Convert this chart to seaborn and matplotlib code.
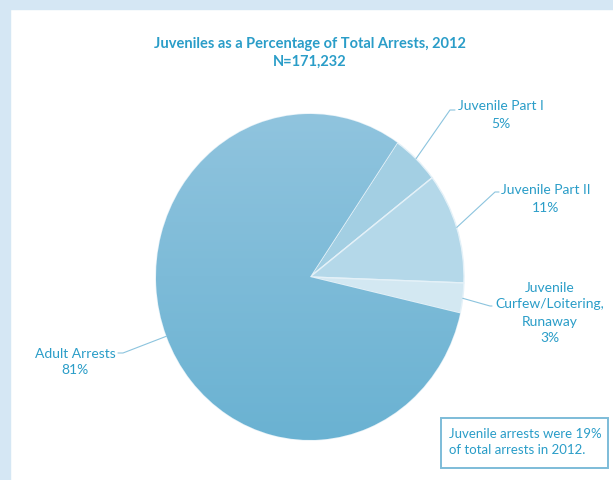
import numpy as np
import matplotlib
matplotlib.use("Agg")
import matplotlib.pyplot as plt
import seaborn as sns
from matplotlib.patches import Rectangle
from matplotlib.colors import LinearSegmentedColormap

sns.set_theme(style="white")
plt.rcParams['font.family'] = ['Lato', 'DejaVu Sans']

# data
categories = ['Juvenile Part I', 'Juvenile Part II',
              'Juvenile\nCurfew/Loitering,\nRunaway', 'Adult Arrests']
shares = [5, 11, 3, 81]
share_labels = ['5%', '11%', '3%', '81%']
title = 'Juveniles as a Percentage of Total Arrests, 2012\nN=171,232'
note = 'Juvenile arrests were 19%\nof total arrests in 2012.'

txt_col = '#2A9DC8'
slice_cols = ['#A3CFE3', '#B4D8E9', '#D3E8F2', '#7FBCD9']

W, H = 613, 480
fig = plt.figure(figsize=(W / 100, H / 100), dpi=100)
fig.patch.set_facecolor('white')

# light blue frame strips (top and left)
fig.patches.append(Rectangle((0, 1 - 9 / H), 1, 9 / H, transform=fig.transFigure,
                             color='#D5E7F4', zorder=0))
fig.patches.append(Rectangle((0, 0), 10 / W, 1, transform=fig.transFigure,
                             color='#D5E7F4', zorder=0))

# pie axes: ellipse centred at (310, 277) px, radii 154 x 163
cx, cy, rx, ry = 310, 277, 154, 163
ax = fig.add_axes([(cx - rx) / W, (H - cy - ry) / H, 2 * rx / W, 2 * ry / H])
wedges, _ = ax.pie(shares, colors=slice_cols, startangle=55.5, counterclock=False,
                   radius=1, wedgeprops=dict(edgecolor='#E4F1F8', linewidth=1.0))

# vertical gradient on the adult slice
grad = np.linspace(0, 1, 256).reshape(-1, 1)
cmap = LinearSegmentedColormap.from_list('adult', ['#90C4DE', '#6AB2D2'])
im = ax.imshow(grad, extent=(-1, 1, -1, 1), origin='upper', cmap=cmap,
               aspect='auto', zorder=wedges[3].get_zorder() + 0.1)
im.set_clip_path(wedges[3])
ax.set_aspect('auto')
ax.set_xlim(-1, 1)
ax.set_ylim(-1, 1)
ax.axis('off')

# overlay axes in pixel coordinates for labels and leaders
ov = fig.add_axes([0, 0, 1, 1], facecolor='none')
ov.set_xlim(0, W)
ov.set_ylim(H, 0)
ov.axis('off')


def rim_point(w):
    mid = np.deg2rad((w.theta1 + w.theta2) / 2)
    x, y = ax.transData.transform((np.cos(mid), np.sin(mid)))
    return x, H - y


fig.text(cx / W, 1 - 53 / H, title, ha='center', va='center', fontsize=10.5,
         fontweight='bold', color=txt_col, linespacing=1.3)

# label layout: (text x, text y, elbow x, elbow y, end x)
layout = [
    (501, 115, 450, 110, 455),
    (546, 199, 495, 192, 499),
    (550, 313, 490, 306, 492),
    (75, 362, 123, 353, 118),
]
for w, name, pct, (tx, ty, ex, ey, endx) in zip(wedges, categories, share_labels, layout):
    px, py = rim_point(w)
    ov.plot([px, ex, endx], [py, ey, ey], color='#8CC4DE', lw=0.8)
    ov.text(tx, ty, name + '\n' + pct, ha='center', va='center', fontsize=10,
            color=txt_col, linespacing=1.5)

# note box
ov.add_patch(Rectangle((441, 418), 167, 50, fill=False, edgecolor='#7DBCD8', lw=1.4))
ov.text(449, 442, note, ha='left', va='center', fontsize=9.5, color=txt_col,
        linespacing=1.45)

fig.savefig('out.png', dpi=100)
